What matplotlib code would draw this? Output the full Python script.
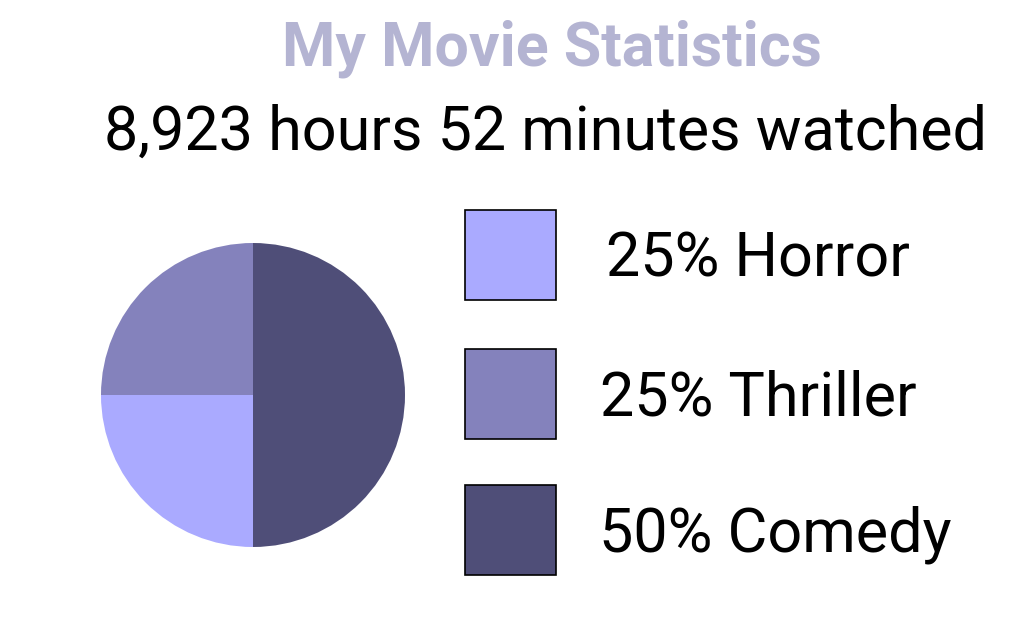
import matplotlib
matplotlib.use("Agg")
import matplotlib.pyplot as plt
from matplotlib.patches import Rectangle

genres = ["Horror", "Thriller", "Comedy"]
shares = [25, 25, 50]
colors = ["#aaaaff", "#8482bc", "#4f4e78"]
title = "My Movie Statistics"
subtitle = "8,923 hours 52 minutes watched"

W, H = 1035, 617
fig = plt.figure(figsize=(W / 100, H / 100), dpi=100)
fig.patch.set_facecolor("white")

# overlay axes in pixel coordinates
ov = fig.add_axes([0, 0, 1, 1])
ov.set_xlim(0, W)
ov.set_ylim(H, 0)
ov.axis("off")

ov.text(551.5, 66, title, family="Roboto", fontweight="bold", fontsize=43.8,
        color="#b4b4d2", ha="center", va="baseline")
ov.text(546, 150, subtitle, family="Roboto", fontsize=43.9,
        color="black", ha="center", va="baseline")

# pie
cx, cy, r = 253, 395, 152
pax = fig.add_axes([(cx - r) / W, (H - cy - r) / H, 2 * r / W, 2 * r / H])
pax.pie(shares, colors=colors, startangle=270, counterclock=False,
        radius=1, wedgeprops=dict(linewidth=0))
pax.set_xlim(-1, 1)
pax.set_ylim(-1, 1)
pax.axis("off")

# legend
sq_tops = [210, 349, 485]
label_x = [606, 600, 599]
for g, s, c, top, lx in zip(genres, shares, colors, sq_tops, label_x):
    ov.add_patch(Rectangle((465, top), 91, 90, facecolor=c,
                           edgecolor="black", linewidth=1.2))
    ov.text(lx, top + 45 + 21.5, f"{s}% {g}", family="Roboto", fontsize=44,
            color="black", ha="left", va="baseline")

fig.savefig("out.png", dpi=100, facecolor="white")
